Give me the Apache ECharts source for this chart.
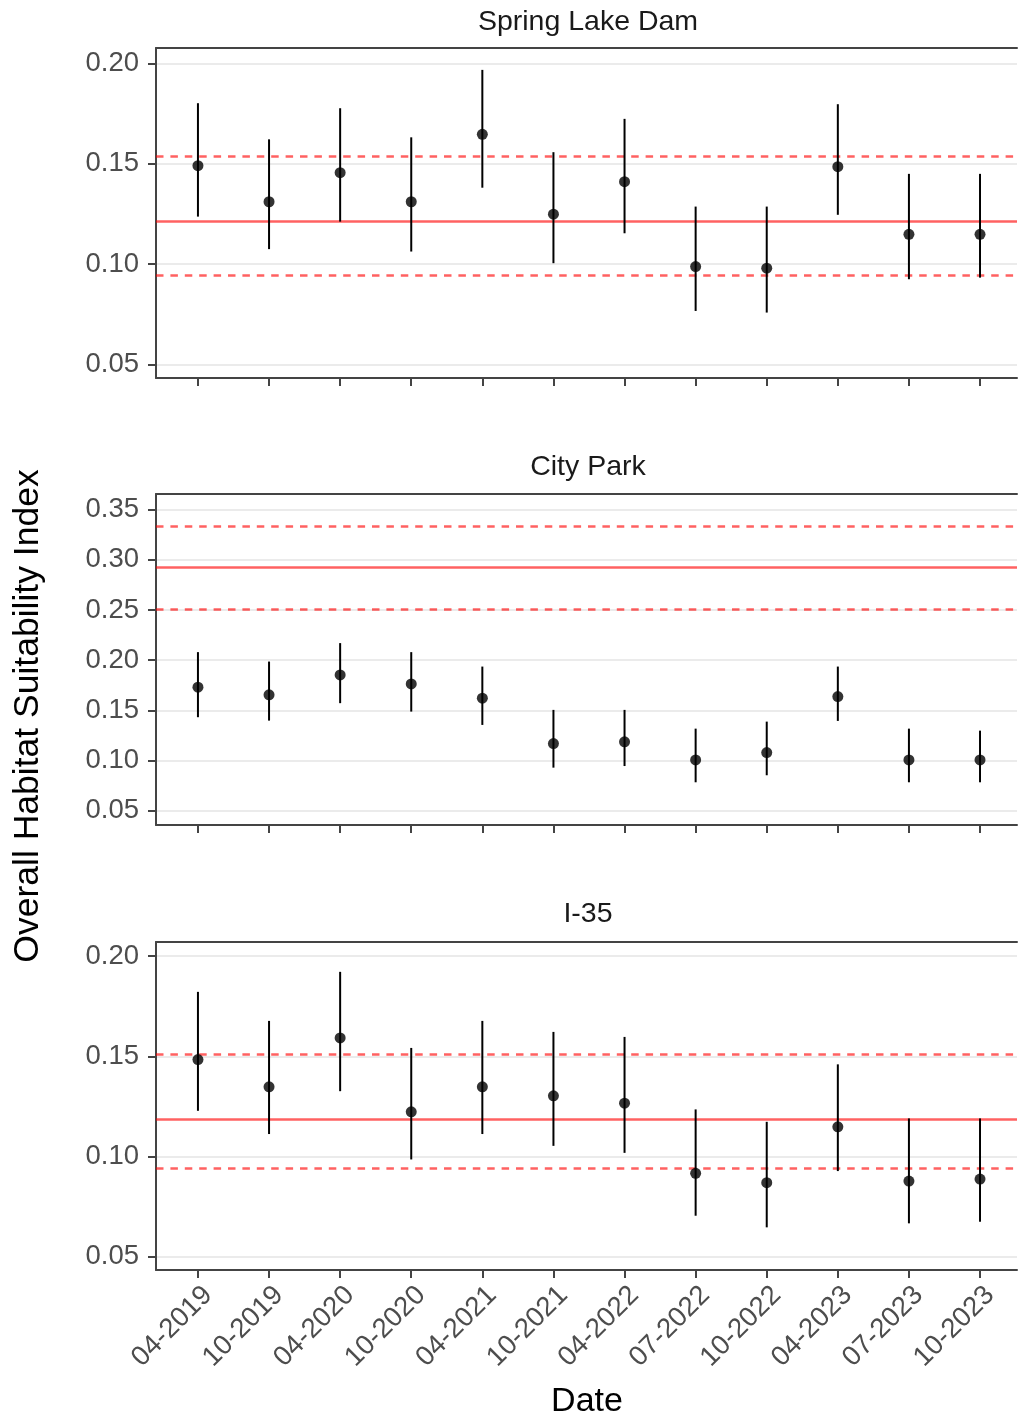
<!DOCTYPE html>
<html>
<head>
<meta charset="utf-8">
<script src="https://cdn.jsdelivr.net/npm/echarts@6/dist/echarts.min.js"></script>
<style>
html,body{margin:0;padding:0;background:#fff;}
#chart{width:1018px;height:1418px;}
</style>
</head>
<body>
<div id="chart"></div>
<script>
// ---- data ----
const categories = ['04-2019','10-2019','04-2020','10-2020','04-2021','10-2021','04-2022','07-2022','10-2022','04-2023','07-2023','10-2023'];
const sites = ['Spring Lake Dam','City Park','I-35'];

const springMean = [0.149,0.131,0.1455,0.131,0.1646,0.1248,0.141,0.0987,0.0979,0.1485,0.1148,0.1148];
const springLow  = [0.1236,0.1074,0.1211,0.1062,0.138,0.1004,0.1153,0.0766,0.0758,0.1245,0.0924,0.0932];
const springHigh = [0.1801,0.1621,0.1776,0.1631,0.1967,0.1557,0.1723,0.1286,0.1286,0.1796,0.1449,0.1449];

const cityMean = [0.1731,0.1654,0.1853,0.1763,0.1621,0.1168,0.1185,0.1005,0.1078,0.1637,0.1005,0.1005];
const cityLow  = [0.1431,0.1397,0.1571,0.1487,0.1354,0.0928,0.0944,0.0782,0.0852,0.1394,0.0782,0.0782];
const cityHigh = [0.208,0.1986,0.217,0.208,0.1936,0.1504,0.1504,0.1317,0.1387,0.1936,0.1317,0.1297];

const i35Mean = [0.1484,0.1348,0.1592,0.1223,0.1348,0.1303,0.1266,0.0916,0.0869,0.1148,0.0877,0.0887];
const i35Low  = [0.1228,0.1112,0.1326,0.0985,0.1112,0.1053,0.1018,0.0704,0.0646,0.0927,0.0666,0.0674];
const i35High = [0.1822,0.1677,0.1922,0.1542,0.1677,0.1622,0.1597,0.1235,0.1173,0.146,0.119,0.119];

const refMean = [0.1215,0.2924,0.1187];
const refLow  = [0.0942,0.2505,0.0941];
const refHigh = [0.1538,0.3337,0.1509];

const yTicksSpring = [0.05,0.10,0.15,0.20];
const yTicksCity = [0.05,0.10,0.15,0.20,0.25,0.30,0.35];
const yTicksI35 = [0.05,0.10,0.15,0.20];

const yMin = [0.0432,0.0356,0.0433];
const yMax = [0.2076,0.3657,0.2071];

const xTitle = 'Date';
const yTitle = 'Overall Habitat Suitability Index';

// ---- layout / style ----
const FONT = '"Liberation Sans", Arial, sans-serif';
const gridsPos = [
  {top:48, height:330},
  {top:494, height:331},
  {top:942, height:328}
];
const X_MIN = -0.59, X_MAX = 11.52;
const means = [springMean, cityMean, i35Mean];
const lows = [springLow, cityLow, i35Low];
const highs = [springHigh, cityHigh, i35High];
const yTicks = [yTicksSpring, yTicksCity, yTicksI35];
const catIdx = categories.map((c,i)=>i);
const RED = 'rgba(255,0,0,0.62)';
const BORDER = {color:'#444', width:2};

const grid = [], xAxis = [], yAxis = [], series = [];
for (let p = 0; p < 3; p++) {
  grid.push({
    left:156, right:1, top:gridsPos[p].top, height:gridsPos[p].height,
    show:false, containLabel:false
  });
  xAxis.push({
    type:'value', gridIndex:p, min:X_MIN, max:X_MAX, position:'bottom',
    axisLine:{show:true, onZero:false, lineStyle:BORDER},
    splitLine:{show:false},
    axisTick:{show:true, length:8, inside:false, customValues:catIdx, lineStyle:{color:'#444', width:2}},
    axisLabel:{
      show:p===2, customValues:catIdx, rotate:45, align:'right', verticalAlign:'top',
      margin:11, fontSize:27.5, fontFamily:FONT, color:'#4D4D4D',
      formatter:(v)=>categories[Math.round(v)]
    }
  });
  yAxis.push({
    type:'value', gridIndex:p, min:yMin[p], max:yMax[p],
    axisLine:{show:true, onZero:false, lineStyle:BORDER},
    axisTick:{show:true, length:8, inside:false, customValues:yTicks[p], lineStyle:{color:'#444', width:2}},
    axisLabel:{customValues:yTicks[p], fontSize:27.5, fontFamily:FONT, color:'#4D4D4D', margin:17,
      formatter:(v)=>v.toFixed(2)},
    splitLine:{show:true, lineStyle:{color:'#EBEBEB', width:2}}
  });
}
// top border lines of each panel (panel extends past the right edge)
for (let p = 0; p < 3; p++) {
  xAxis.push({
    type:'value', gridIndex:p, min:X_MIN, max:X_MAX, position:'top',
    axisLine:{show:true, onZero:false, lineStyle:BORDER},
    axisTick:{show:false}, axisLabel:{show:false}, splitLine:{show:false}
  });
}
for (let p = 0; p < 3; p++) {
  // reference lines
  series.push({
    type:'line', xAxisIndex:p, yAxisIndex:p, data:[], z:1, silent:true,
    markLine:{
      silent:true, symbol:['none','none'], z:1, animation:false, precision:6,
      label:{show:false},
      data:[
        {yAxis:refMean[p], lineStyle:{color:RED, width:2.5, type:'solid'}},
        {yAxis:refLow[p], lineStyle:{color:RED, width:2.5, type:[7.5,6.9]}},
        {yAxis:refHigh[p], lineStyle:{color:RED, width:2.5, type:[7.5,6.9]}}
      ]
    }
  });
  // error bars
  series.push({
    type:'custom', xAxisIndex:p, yAxisIndex:p, z:3, silent:true,
    data: catIdx.map(i=>[i, lows[p][i], highs[p][i]]),
    encode:{x:0, y:[1,2]},
    renderItem:(params, api)=>{
      const a = api.coord([api.value(0), api.value(1)]);
      const b = api.coord([api.value(0), api.value(2)]);
      return {type:'line', shape:{x1:a[0], y1:a[1], x2:b[0], y2:b[1]},
        style:{stroke:'#000', lineWidth:2}};
    }
  });
  // points
  series.push({
    type:'scatter', xAxisIndex:p, yAxisIndex:p, z:4, silent:true,
    symbol:'circle', symbolSize:11, itemStyle:{color:'#000'},
    data: catIdx.map(i=>[i, means[p][i]])
  });
}

const stripY = [21.7, 467.5, 914.5];
const graphic = sites.map((s,p)=>({
  type:'text', x:588, y:stripY[p],
  style:{text:s, font:'28.5px '+FONT, fill:'#1A1A1A', textAlign:'center', textVerticalAlign:'middle'}
}));
graphic.push({
  type:'text', x:28, y:716, rotation:Math.PI/2,
  style:{text:yTitle, font:'35.5px '+FONT, fill:'#000', textAlign:'center', textVerticalAlign:'middle'}
});
graphic.push({
  type:'text', x:587, y:1402,
  style:{text:xTitle, font:'34px '+FONT, fill:'#000', textAlign:'center', textVerticalAlign:'middle'}
});

const chart = echarts.init(document.getElementById('chart'), null, {renderer:'canvas'});
chart.setOption({
  animation:false,
  backgroundColor:'#fff',
  grid, xAxis, yAxis, series, graphic
});
</script>
</body>
</html>
